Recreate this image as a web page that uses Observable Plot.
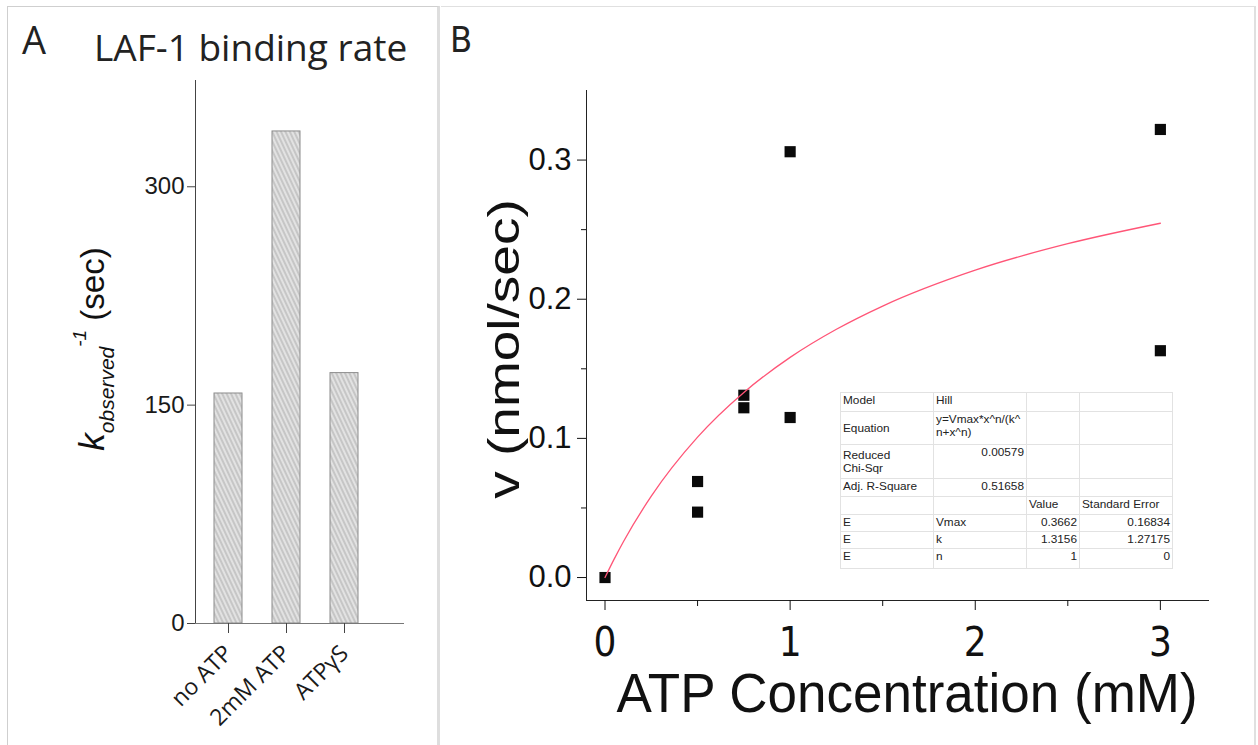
<!DOCTYPE html>
<html><head><meta charset="utf-8">
<script src="https://cdn.jsdelivr.net/npm/d3@7"></script>
<script src="https://cdn.jsdelivr.net/npm/@observablehq/plot@0.6"></script>
<style>
body{margin:0;background:#fff;width:1258px;height:745px;overflow:hidden;position:relative;font-family:"Liberation Sans",Arial,sans-serif}
.abs{position:absolute}
#panelA{left:7px;top:6px;width:429px;height:760px;border-left:1px solid #cfcfcf;border-top:1px solid #cfcfcf;border-right:3px solid #dedede}
#panelB{left:441px;top:6px;width:813px;height:760px;border-top:1px solid #e0e0e0;border-right:2px solid #e0e0e0}
#plotA{left:0;top:0}
#plotB{left:441px;top:0}
#fitTable{left:840px;top:392px;border-collapse:collapse;font-family:"Liberation Sans",Arial,sans-serif;font-size:11.8px;color:#222;background:#fff;border:1px solid #b5b5b5;table-layout:fixed}
#fitTable td{border:1px solid #e2e2e2;padding:1px 2px;vertical-align:top;line-height:13px;white-space:pre;overflow:hidden}
</style>
</head><body>
<div id="panelA" class="abs"></div>
<div id="panelB" class="abs"></div>
<div id="plotA" class="abs"></div>
<div id="plotB" class="abs"></div>
<table id="fitTable" class="abs"></table>
<script>
// ---- Panel A data ----
const categories = ["no ATP", "2mM ATP", "ATPγS"];
const bindingTime = [158, 338, 172];
const yTicksA = [0, 150, 300];

// ---- Panel B data ----
const atpConc = [0, 0.5, 0.5, 0.75, 0.75, 1, 1, 3, 3];
const velocity = [0, 0.069, 0.047, 0.131, 0.122, 0.306, 0.115, 0.322, 0.163];
const fitConc = [0, 0.05, 0.1, 0.25, 0.5, 0.75, 1, 1.25, 1.5, 2, 2.5, 3];
const fitVelocity = [0, 0.0134, 0.0259, 0.0585, 0.1009, 0.1330, 0.1582, 0.1784, 0.1951, 0.2209, 0.2399, 0.2546];
const yTicksB = [0, 0.1, 0.2, 0.3];
const yMinorB = [0.05, 0.15, 0.25];
const xTicksB = [0, 1, 2, 3];
const xMinorB = [0.5, 1.5, 2.5];

// ---- Fit table ----
const tableColWidths = [93, 93, 53, 93];
const tableRowHeights = [19, 33, 34, 18, 18, 17, 17, 20];
const tableRows = [
  ["Model", "Hill", "", ""],
  ["Equation", "y=Vmax*x^n/(k^\nn+x^n)", "", ""],
  ["Reduced\nChi-Sqr", "0.00579", "", ""],
  ["Adj. R-Square", "0.51658", "", ""],
  ["", "", "Value", "Standard Error"],
  ["E", "Vmax", "0.3662", "0.16834"],
  ["E", "k", "1.3156", "1.27175"],
  ["E", "n", "1", "0"]
];

// ---------- Panel A ----------
const barData = categories.map((c, i) => ({category: c, value: bindingTime[i]}));
const hatchDefs = () => {
  const defs = d3.create("svg:defs");
  const p = defs.append("pattern").attr("id", "hatchA").attr("patternUnits", "userSpaceOnUse")
    .attr("width", 4).attr("height", 4).attr("patternTransform", "rotate(-25)");
  p.append("rect").attr("width", 4).attr("height", 4).attr("fill", "#c6c6c6");
  p.append("line").attr("x1", 1).attr("y1", -1).attr("x2", 1).attr("y2", 5)
    .attr("stroke", "#f2f2f2").attr("stroke-width", 1.3);
  return defs.node();
};

const plotA = Plot.plot({
  width: 440, height: 745,
  marginLeft: 195, marginRight: 37, marginTop: 80, marginBottom: 122,
  style: {fontFamily: "'Liberation Sans', Arial, sans-serif", background: "transparent", overflow: "visible", color: "#1a1a1a"},
  x: {type: "band", domain: categories, range: [213, 359], paddingInner: 0.525, paddingOuter: 0},
  y: {domain: [0, 373]},
  marks: [
    hatchDefs,
    Plot.barY(barData, {x: "category", y: "value", fill: "url(#hatchA)", stroke: "#8c8c8c", strokeWidth: 1}),
    Plot.frame({anchor: "left", stroke: "#444"}),
    Plot.frame({anchor: "bottom", stroke: "#777"}),
    Plot.axisY(yTicksA, {tickSize: 8, tickPadding: 3, fontSize: 24, label: null, stroke: "#444"}),
    Plot.axisX({tickSize: 10, tickPadding: 16, tickRotate: -45, fontSize: 23, fontFamily: "'Open Sans', sans-serif", label: null, stroke: "#444"})
  ]
});
const svgA = d3.select(plotA);
svgA.append("text").attr("x", 22).attr("y", 54).attr("text-anchor", "start").attr("font-family", "'Open Sans', sans-serif")
  .attr("font-size", 38).attr("fill", "#222").text("A");
svgA.append("text").attr("x", 94).attr("y", 61).attr("text-anchor", "start").attr("font-family", "'Open Sans', sans-serif")
  .attr("font-size", 37).attr("fill", "#222").text("LAF-1 binding rate");
const labA = svgA.append("text").attr("transform", "translate(104,349) rotate(-90)").attr("text-anchor", "middle")
  .attr("font-family", "'Liberation Sans', Arial, sans-serif").attr("fill", "#111");
labA.append("tspan").attr("font-style", "italic").attr("font-size", 35).text("k");
labA.append("tspan").attr("font-style", "italic").attr("font-size", 21).attr("dy", 10).text("observed");
labA.append("tspan").attr("font-style", "italic").attr("font-size", 19).attr("dy", -28).text("-1");
labA.append("tspan").attr("font-size", 33).attr("dy", 18).text(" (sec)");
document.getElementById("plotA").appendChild(plotA);

// ---------- Panel B ----------
const points = atpConc.map((x, i) => ({x, y: velocity[i]}));
const fit = fitConc.map((x, i) => ({x, y: fitVelocity[i]}));
const plotB = Plot.plot({
  width: 817, height: 745,
  marginLeft: 145, marginRight: 50, marginTop: 90, marginBottom: 145,
  style: {fontFamily: "'Liberation Sans', Arial, sans-serif", background: "transparent", overflow: "visible", color: "#111"},
  x: {domain: [-0.1, 3.26]},
  y: {domain: [-0.0165, 0.35]},
  marks: [
    Plot.frame({anchor: "left", stroke: "#222"}),
    Plot.frame({anchor: "bottom", stroke: "#222"}),
    Plot.axisY(yTicksB, {tickSize: 9, tickPadding: 6, fontSize: 31, tickFormat: d3.format(".1f"), label: null}),
    Plot.axisY(yMinorB, {tickSize: 5, tickFormat: () => "", label: null}),
    Plot.axisX(xTicksB, {tickSize: 10, tickPadding: 17, fontSize: 40, tickFormat: d3.format("d"), fontFamily: "'Liberation Sans Narrow', 'DejaVu Sans Condensed', sans-serif", label: null}),
    Plot.axisX(xMinorB, {tickSize: 6, tickFormat: () => "", label: null}),
    Plot.dot(points, {x: "x", y: "y", symbol: "square", fill: "#0a0a0a", r: 6.3}),
    Plot.line(fit, {x: "x", y: "y", stroke: "#ff5577", strokeWidth: 1.3, curve: "monotone-x"})
  ]
});
const svgB = d3.select(plotB);
svgB.append("text").attr("x", 9).attr("y", 52).attr("text-anchor", "start")
  .attr("font-family", "'Liberation Sans Narrow', 'DejaVu Sans Condensed', sans-serif")
  .attr("font-size", 36).attr("fill", "#222").text("B");
svgB.append("text").attr("transform", "translate(78,349) scale(1,1.25) rotate(-90)")
  .attr("text-anchor", "middle").attr("font-size", 44).attr("fill", "#111").text("v (nmol/sec)");
svgB.append("text").attr("transform", "translate(466,712) scale(1,1.06)")
  .attr("text-anchor", "middle").attr("font-size", 53).attr("fill", "#111").text("ATP Concentration (mM)");
document.getElementById("plotB").appendChild(plotB);

// ---------- table ----------
const isNum = s => /^[0-9.]+$/.test(s);
const tbl = d3.select("#fitTable");
const cg = tbl.append("colgroup");
tableColWidths.forEach(w => cg.append("col").style("width", w + "px"));
tableRows.forEach((row, r) => {
  const tr = tbl.append("tr").style("height", tableRowHeights[r] + "px");
  row.forEach((cell, c) => {
    tr.append("td").style("text-align", isNum(cell) ? "right" : "left")
      .style("vertical-align", (r === 1 && c === 0) || (r === 2 && c === 0) ? "middle" : "top")
      .text(cell);
  });
});
</script>
</body></html>
